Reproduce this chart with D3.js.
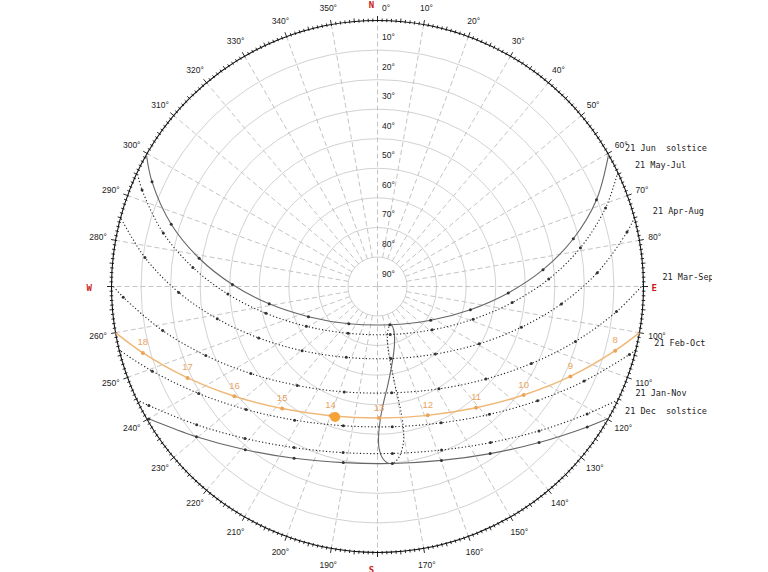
<!DOCTYPE html>
<html>
<head>
<meta charset="utf-8">
<script src="https://cdn.jsdelivr.net/npm/d3@7/dist/d3.min.js"></script>
<style>
  html, body { margin: 0; padding: 0; background: #fff; }
  svg { display: block; }
  text { font-family: "Liberation Sans", Arial, sans-serif; }
  text.mono { font-family: "DejaVu Sans Mono", "Liberation Mono", monospace; }
</style>
</head>
<body>
<svg id="chart" width="768" height="572"></svg>
<script>
// Altitude rings (deg) and azimuth tick labels (deg from north, clockwise)
const altitudeTicks = [90, 80, 70, 60, 50, 40, 30, 20, 10, 0];
const azimuthLabels = [10, 20, 30, 40, 50, 60, 70, 80, 100, 110, 120, 130, 140, 150, 160, 170,
  190, 200, 210, 220, 230, 240, 250, 260, 280, 290, 300, 310, 320, 330, 340, 350];
const cardinals = ["N", "E", "S", "W"];

// Sun paths on the 21st of each month: [clock hour, azimuth, altitude]
// first and last rows are sunrise / sunset on the horizon
const pathJun = [[6.05, 60.3, 0], [7, 68.4, 10.3], [8, 76.3, 21.8], [9, 84.2, 33.7], [10, 92.8, 45.7],
  [11, 104.0, 57.6], [12, 122.4, 68.7], [13, 162.2, 76.4], [14, 217.6, 74.1], [15, 246.4, 64.5],
  [16, 260.9, 52.9], [17, 270.8, 40.9], [18, 279.0, 28.9], [19, 286.8, 17.1], [20, 294.9, 5.9],
  [20.55, 299.7, 0]];
const pathMayJul = [[6.25, 64.6, 0], [7, 71.0, 8.4], [8, 79.2, 20.1], [9, 87.5, 32.0], [10, 96.8, 44.1],
  [11, 108.9, 55.8], [12, 128.4, 66.4], [13, 165.2, 73.2], [14, 212.2, 71.3], [15, 240.8, 62.4],
  [16, 256.5, 51.2], [17, 267.1, 39.3], [18, 275.9, 27.2], [19, 284.0, 15.3], [20, 292.3, 3.9],
  [20.35, 295.4, 0]];
const pathAprAug = [[6.7, 75.0, 0], [7, 77.7, 3.6], [8, 86.4, 15.5], [9, 95.4, 27.5], [10, 105.8, 39.4],
  [11, 119.4, 50.5], [12, 139.4, 59.9], [13, 169.5, 65.2], [14, 203.8, 63.8], [15, 229.6, 56.5],
  [16, 246.6, 46.2], [17, 258.6, 34.7], [18, 268.3, 22.7], [19, 277.1, 10.7], [19.9, 285.0, 0]];
const pathMarSep = [[7.28, 89.5, 0], [8, 96.0, 8.7], [9, 105.5, 20.5], [10, 116.6, 31.8], [11, 130.5, 41.8],
  [12, 149.0, 49.6], [13, 172.4, 53.7], [14, 197.5, 52.6], [15, 219.0, 46.9], [16, 235.5, 38.0],
  [17, 248.1, 27.4], [18, 258.4, 15.8], [19, 267.6, 3.9], [19.32, 270.5, 0]];
const pathFebOct = [[7.85, 103.8, 0], [8, 105.1, 1.7], [9, 114.6, 13.1], [10, 125.5, 23.5], [11, 138.8, 32.5],
  [12, 155.0, 39.1], [13, 174.0, 42.3], [14, 193.8, 41.5], [15, 211.8, 36.8], [16, 226.9, 29.1],
  [17, 239.1, 19.5], [18, 249.4, 8.6], [18.75, 256.2, 0]];
const pathJanNov = [[8.34, 115.2, 0], [9, 121.3, 7.0], [10, 131.8, 16.7], [11, 144.1, 24.8], [12, 158.6, 30.6],
  [13, 174.9, 33.3], [14, 191.7, 32.6], [15, 207.4, 28.6], [16, 221.1, 21.8], [17, 232.6, 13.0],
  [18, 242.5, 2.8], [18.26, 244.8, 0]];
const pathDec = [[8.55, 119.7, 0], [9, 123.8, 4.6], [10, 134.0, 14.0], [11, 146.0, 21.8], [12, 159.8, 27.3],
  [13, 175.2, 29.9], [14, 191.0, 29.3], [15, 205.9, 25.4], [16, 219.0, 18.9], [17, 230.3, 10.4],
  [18, 239.9, 0.6], [18.05, 240.3, 0]];

const seasonPaths = [pathJun, pathMayJul, pathAprAug, pathMarSep, pathFebOct, pathJanNov, pathDec];
const seasonNames = ["21 Jun  solstice", "21 May-Jul", "21 Apr-Aug", "21 Mar-Sep",
  "21 Feb-Oct", "21 Jan-Nov", "21 Dec  solstice"];

// Analemma at 13:00 clock time: [azimuth, altitude]
const analemmaDecJun = [[175.8, 29.95], [174.4, 30.3], [172.7, 31.96], [170.8, 35.8], [169.8, 40.13],
  [169.4, 45.14], [169.5, 50.61], [170.0, 57.43], [170.4, 62.91], [170.4, 68.27], [169.3, 72.05],
  [166.0, 75.13], [162.4, 76.25], [160.9, 76.3]];
const analemmaJunDec = [[160.9, 76.3], [159.6, 75.84], [159.6, 74.16], [162.5, 70.77], [166.2, 66.97],
  [170.8, 61.51], [174.1, 56.37], [177.1, 50.46], [178.8, 44.99], [179.6, 39.2], [179.4, 35.0],
  [178.2, 31.68], [176.6, 30.13], [175.8, 29.95]];

// Today's path: [clock hour, azimuth, altitude]
const pathToday = [[7.43, 100.0, 0], [8, 105.1, 6.7], [9, 115.0, 18.0], [10, 126.6, 28.4], [11, 140.9, 37.1],
  [12, 158.7, 43.2], [13, 179.3, 45.5], [14, 200.0, 43.5], [15, 218.0, 37.6], [16, 232.5, 29.0],
  [17, 244.3, 18.7], [18, 254.2, 7.5], [18.63, 260.0, 0]];
const sunNow = [198.0, 43.6];

// ---------------------------------------------------------------
const cx = 377.5, cy = 286.5, R = 266;
const svg = d3.select("#chart");

const radius = d3.scaleLinear().domain([90, 0]).range([0, R]);
const angle = d3.scaleLinear().domain([0, 360]).range([0, 2 * Math.PI]);
const project = (az, alt) => [
  cx + radius(alt) * Math.sin(angle(az)),
  cy - radius(alt) * Math.cos(angle(az)),
];

const line = d3.line().curve(d3.curveCatmullRom.alpha(0.5));

// Grid: altitude rings
svg.append("g")
  .selectAll("circle")
  .data(altitudeTicks.filter((a) => a > 0 && a < 90))
  .join("circle")
  .attr("cx", cx)
  .attr("cy", cy)
  .attr("r", (a) => radius(a))
  .attr("fill", "none")
  .attr("stroke", "#d2d2d2")
  .attr("stroke-width", 1);

// Grid: azimuth spokes
svg.append("g")
  .selectAll("line")
  .data(d3.range(0, 360, 10))
  .join("line")
  .attr("x1", (az) => project(az, az % 90 === 0 ? 90 : 80)[0])
  .attr("y1", (az) => project(az, az % 90 === 0 ? 90 : 80)[1])
  .attr("x2", (az) => project(az, 0)[0])
  .attr("y2", (az) => project(az, 0)[1])
  .attr("stroke", "#c4c4c4")
  .attr("stroke-width", 1)
  .attr("stroke-dasharray", "5,3");

// Outer horizon circle with degree ticks
svg.append("circle")
  .attr("cx", cx)
  .attr("cy", cy)
  .attr("r", R)
  .attr("fill", "none")
  .attr("stroke", "#111")
  .attr("stroke-width", 1.1);

svg.append("g")
  .selectAll("line")
  .data(d3.range(0, 360, 1))
  .join("line")
  .attr("x1", (az) => cx + (R - 1.5) * Math.sin(angle(az)))
  .attr("y1", (az) => cy - (R - 1.5) * Math.cos(angle(az)))
  .attr("x2", (az) => cx + (R + (az % 10 === 0 ? 4.5 : az % 5 === 0 ? 3 : 2)) * Math.sin(angle(az)))
  .attr("y2", (az) => cy - (R + (az % 10 === 0 ? 4.5 : az % 5 === 0 ? 3 : 2)) * Math.cos(angle(az)))
  .attr("stroke", "#111")
  .attr("stroke-width", 0.9);

// Altitude labels
svg.append("g")
  .selectAll("text")
  .data(altitudeTicks)
  .join("text")
  .attr("x", cx + 4.5)
  .attr("y", (a) => cy - radius(a) - 13)
  .attr("dominant-baseline", "central")
  .attr("font-size", 8.5)
  .attr("fill", "#222")
  .text((a) => a + "°");

// Azimuth labels, pushed out so that the text box sits outside the ring
svg.append("g")
  .selectAll("text")
  .data(azimuthLabels)
  .join("text")
  .attr("text-anchor", "middle")
  .attr("dominant-baseline", "central")
  .attr("font-size", 8.5)
  .attr("fill", "#222")
  .text((az) => az + "°")
  .each(function (az) {
    const w = this.getComputedTextLength();
    const s = Math.sin(angle(az));
    const c = Math.cos(angle(az));
    d3.select(this)
      .attr("x", cx + (R + 8) * s + s * (w / 2 + 1))
      .attr("y", cy - (R + 8) * c - c * 9);
  });

// Cardinal points
const cardinalPos = {
  N: [cx - 6, 5, "middle"],
  E: [cx + R + 8, cy + 1.5, "start"],
  S: [cx - 6, cy + R + 17, "middle"],
  W: [cx - R - 19.5, cy + 1.5, "end"],
};
svg.append("g")
  .selectAll("text")
  .data(cardinals)
  .join("text")
  .attr("class", "mono")
  .attr("x", (d) => cardinalPos[d][0])
  .attr("y", (d) => cardinalPos[d][1])
  .attr("text-anchor", (d) => cardinalPos[d][2])
  .attr("dominant-baseline", "central")
  .attr("font-weight", "bold")
  .attr("font-size", 9)
  .attr("fill", "#d01818")
  .text((d) => d);

// Analemma at 13:00
svg.append("path")
  .attr("d", line(analemmaDecJun.map((p) => project(p[0], p[1]))))
  .attr("fill", "none")
  .attr("stroke", "#222")
  .attr("stroke-width", 1.1)
  .attr("stroke-dasharray", "1.2,2.2");
svg.append("path")
  .attr("d", line(analemmaJunDec.map((p) => project(p[0], p[1]))))
  .attr("fill", "none")
  .attr("stroke", "#666")
  .attr("stroke-width", 1.1);

// Seasonal sun paths
const seasons = svg.append("g")
  .selectAll("g")
  .data(seasonPaths.map((pts, i) => ({pts, name: seasonNames[i]})))
  .join("g");

seasons.append("path")
  .attr("d", (d) => line(d.pts.map((p) => project(p[1], p[2]))))
  .attr("fill", "none")
  .attr("stroke", (d) => (d.name.includes("solstice") ? "#666" : "#222"))
  .attr("stroke-width", 1.1)
  .attr("stroke-dasharray", (d) => (d.name.includes("solstice") ? null : "1.2,2.2"));

seasons.selectAll("circle")
  .data((d) => d.pts.filter((p) => Number.isInteger(p[0])))
  .join("circle")
  .attr("cx", (p) => project(p[1], p[2])[0])
  .attr("cy", (p) => project(p[1], p[2])[1])
  .attr("r", 1.5)
  .attr("fill", "#333");

// Season labels next to sunrise, clipped at the original frame edge
svg.append("clipPath")
  .attr("id", "frame")
  .append("rect")
  .attr("x", 0)
  .attr("y", 0)
  .attr("width", 712)
  .attr("height", 572);

svg.append("g")
  .attr("clip-path", "url(#frame)")
  .selectAll("text")
  .data(seasonPaths.map((pts, i) => ({az: pts[0][1], name: seasonNames[i]})))
  .join("text")
  .attr("class", "mono")
  .attr("x", (d) => cx + (R + 19) * Math.sin(angle(d.az)))
  .attr("y", (d) => cy - R * Math.cos(angle(d.az)) - 7)
  .attr("dominant-baseline", "central")
  .attr("font-size", 8.5)
  .attr("fill", "#222")
  .attr("xml:space", "preserve")
  .style("white-space", "pre")
  .text((d) => d.name);

// Today's path in orange
svg.append("path")
  .attr("d", line(pathToday.map((p) => project(p[1], p[2]))))
  .attr("fill", "none")
  .attr("stroke", "#f0b877")
  .attr("stroke-width", 1.5);

const todayHours = pathToday.filter((p) => Number.isInteger(p[0]));

svg.append("g")
  .selectAll("circle")
  .data(todayHours)
  .join("circle")
  .attr("cx", (p) => project(p[1], p[2])[0])
  .attr("cy", (p) => project(p[1], p[2])[1])
  .attr("r", 2)
  .attr("fill", "#eba55a");

svg.append("g")
  .selectAll("text")
  .data(todayHours)
  .join("text")
  .attr("x", (p) => project(p[1], p[2])[0])
  .attr("y", (p) => project(p[1], p[2])[1] - 11)
  .attr("text-anchor", "middle")
  .attr("dominant-baseline", "central")
  .attr("font-size", 9.5)
  .attr("fill", "#eba35e")
  .text((p) => p[0]);

// Current sun position
svg.append("circle")
  .attr("cx", project(sunNow[0], sunNow[1])[0])
  .attr("cy", project(sunNow[0], sunNow[1])[1])
  .attr("r", 5)
  .attr("fill", "#f5a236");
</script>
</body>
</html>
